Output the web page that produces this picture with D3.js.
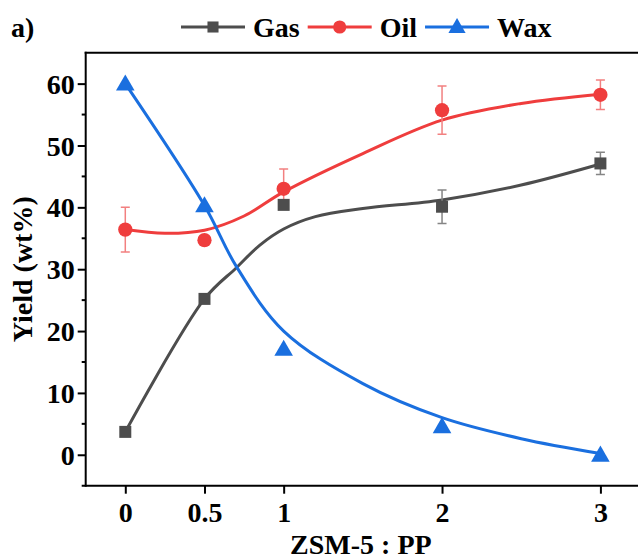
<!DOCTYPE html>
<html>
<head>
<meta charset="utf-8">
<script src="https://cdn.jsdelivr.net/npm/d3@7"></script>
<style>
  html, body { margin: 0; padding: 0; background: #fff; }
  svg { display: block; }
  svg text { font-family: "Liberation Serif", "Times New Roman", Times, "DejaVu Serif", serif !important; font-weight: bold; fill: #000; }
</style>
</head>
<body>
<svg id="chart"></svg>
<script>
///////////////////////////////////////////
//////////////// Data /////////////////////
///////////////////////////////////////////
const ratios = [0, 0.5, 1, 2, 3]
const xTicks = [0, 0.5, 1, 2, 3]
const yTicks = [0, 10, 20, 30, 40, 50, 60]
const yMinorTicks = [5, 15, 25, 35, 45, 55]

const gasYield = [3.7, 25.2, 40.4, 40.1, 47.1]
const gasErr = [0, 0, 0.5, 2.7, 1.8]
const oilYield = [36.4, 34.7, 43.0, 55.7, 58.2]
const oilErr = [3.6, 0, 3.2, 3.9, 2.4]
const waxYield = [60.0, 40.3, 17.1, 4.6, 0.0]

// fitted trend lines
const gasFitX = [0, 0.5, 0.7, 0.85, 1, 1.2, 1.5, 2, 2.5, 3]
const gasFitY = [3.7, 25.2, 30.2, 33.9, 36.5, 38.5, 39.8, 41.2, 43.6, 47.0]
const oilFitX = [0, 0.25, 0.5, 0.75, 1, 1.5, 2, 2.5, 3]
const oilFitY = [36.4, 35.8, 36.3, 38.6, 42.5, 48.7, 54.1, 56.8, 58.3]
const waxFitX = [0, 0.5, 0.7, 1, 1.5, 2, 2.5, 3]
const waxFitY = [60.0, 40.3, 30.5, 20.0, 11.5, 6.0, 2.6, 0.2]

///////////////////////////////////////////
//////////////// Constants ////////////////
///////////////////////////////////////////
const width = 638
const height = 559
const margin = { top: 52.7, right: -2, bottom: 73.3, left: 85.7 }

const gasColour = "#4d4d4d"
const oilColour = "#ef3d3d"
const waxColour = "#1a6fdf"
const gasErrColour = "#858585"
const oilErrColour = "#f28080"

const fontSize = 28
const fontFamily = '"Liberation Serif", "Times New Roman", Times, serif'

const svg = d3.select("#chart")
  .attr("width", width)
  .attr("height", height)

const x = d3.scaleLinear()
  .domain([-0.25, 3.25])
  .range([margin.left, width - margin.right])

const y = d3.scaleLinear()
  .domain([-5, 65])
  .range([height - margin.bottom, margin.top])

////////////////////////////
////////// Axes ////////////
////////////////////////////
const axisG = svg.append("g")

// x axis
const xAxis = axisG.append("g")
  .attr("transform", `translate(0,${y(-5)})`)
  .call(d3.axisBottom(x).tickValues(xTicks).tickSize(8).tickPadding(8).tickFormat(d3.format("")))
  .attr("font-family", fontFamily)
xAxis.select(".domain").attr("stroke-width", 2).attr("d", `M${x(-0.25) - 4},0H${x(3.25)}`)
xAxis.selectAll(".tick line").attr("stroke-width", 2)
xAxis.selectAll(".tick text")
  .style("font-size", fontSize + "px")
  .attr("dy", "0.71em")

// y axis
const yAxis = axisG.append("g")
  .attr("transform", `translate(${x(-0.25)},0)`)
  .call(d3.axisLeft(y).tickValues(yTicks).tickSize(8).tickPadding(3))
  .attr("font-family", fontFamily)
yAxis.select(".domain").attr("stroke-width", 2).attr("d", `M0,${y(-5) + 1}V${y(65) - 1}`)
yAxis.selectAll(".tick line").attr("stroke-width", 2)
yAxis.selectAll(".tick text")
  .style("font-size", fontSize + "px")
  .attr("dy", "0.34em")

// minor y ticks
axisG.append("g")
  .selectAll("line")
  .data(yMinorTicks)
  .join("line")
    .attr("x1", x(-0.25) - 4)
    .attr("x2", x(-0.25))
    .attr("y1", d => y(d))
    .attr("y2", d => y(d))
    .attr("stroke", "#000")
    .attr("stroke-width", 2)

// top frame line
axisG.append("line")
  .attr("x1", x(-0.25) - 1)
  .attr("x2", x(3.25))
  .attr("y1", y(65))
  .attr("y2", y(65))
  .attr("stroke", "#000")
  .attr("stroke-width", 2)

// axis titles
svg.append("text")
  .attr("x", (x(-0.25) + x(3.25)) / 2 - 2)
  .attr("y", 554)
  .attr("text-anchor", "middle")
  .style("font-size", fontSize + "px")
  .text("ZSM-5 : PP")

svg.append("text")
  .attr("transform", `translate(32,${(y(-5) + y(65)) / 2}) rotate(-90)`)
  .attr("text-anchor", "middle")
  .style("font-size", fontSize + "px")
  .text("Yield (wt%)")

svg.append("text")
  .attr("x", 11)
  .attr("y", 37)
  .style("font-size", fontSize + "px")
  .text("a)")

////////////////////////////
////////// Series //////////
////////////////////////////
const series = [
  { name: "Gas", colour: gasColour, errColour: gasErrColour, values: gasYield, err: gasErr,
    fitX: gasFitX, fitY: gasFitY, symbol: d3.symbolSquare, size: 144 },
  { name: "Oil", colour: oilColour, errColour: oilErrColour, values: oilYield, err: oilErr,
    fitX: oilFitX, fitY: oilFitY, symbol: d3.symbolCircle, size: 160 },
  { name: "Wax", colour: waxColour, errColour: waxColour, values: waxYield, err: null,
    fitX: waxFitX, fitY: waxFitY, symbol: d3.symbolTriangle, size: 150 }
]

const line = d3.line()
  .x(d => x(d[0]))
  .y(d => y(d[1]))
  .curve(d3.curveCatmullRom.alpha(0.5))

const plotG = svg.append("g")

// fit lines
plotG.selectAll(".fit")
  .data(series)
  .join("path")
  .classed("fit", true)
    .attr("d", s => line(s.fitX.map((v, i) => [v, s.fitY[i]])))
    .attr("fill", "none")
    .attr("stroke", s => s.colour)
    .attr("stroke-width", 3)

// error bars
const capW = 4.5
series.filter(s => s.err).forEach(s => {
  const eg = plotG.append("g")
    .attr("stroke", s.errColour)
    .attr("stroke-width", 1.5)
  const pts = ratios.map((r, i) => ({ r, v: s.values[i], e: s.err[i] })).filter(d => d.e > 0)
  eg.selectAll(".bar").data(pts).join("path")
    .attr("d", d => `M${x(d.r)},${y(d.v + d.e)}V${y(d.v - d.e)}` +
      `M${x(d.r) - capW},${y(d.v + d.e)}H${x(d.r) + capW}` +
      `M${x(d.r) - capW},${y(d.v - d.e)}H${x(d.r) + capW}`)
})

// markers
series.forEach(s => {
  plotG.append("g")
    .selectAll("path")
    .data(ratios.map((r, i) => [r, s.values[i]]))
    .join("path")
      .attr("transform", d => `translate(${x(d[0])},${y(d[1]) + (s.symbol === d3.symbolTriangle ? 1.5 : 0)})`)
      .attr("d", d3.symbol(s.symbol, s.size))
      .attr("fill", s.colour)
})

////////////////////////////
////////// Legend //////////
////////////////////////////
const legendY = 27
let lx = 181
series.forEach(s => {
  const g = svg.append("g")
  g.append("line")
    .attr("x1", lx).attr("x2", lx + 64)
    .attr("y1", legendY).attr("y2", legendY)
    .attr("stroke", s.colour).attr("stroke-width", 3)
  g.append("path")
    .attr("transform", `translate(${lx + 32},${legendY + (s.symbol === d3.symbolTriangle ? 1 : 0)})`)
    .attr("d", d3.symbol(s.symbol, s.size * 0.85))
    .attr("fill", s.colour)
  const t = g.append("text")
    .attr("x", lx + 72)
    .attr("y", legendY + 10)
    .style("font-size", fontSize + "px")
    .text(s.name)
  lx += 72 + t.node().getComputedTextLength() + 8
})
</script>
</body>
</html>
